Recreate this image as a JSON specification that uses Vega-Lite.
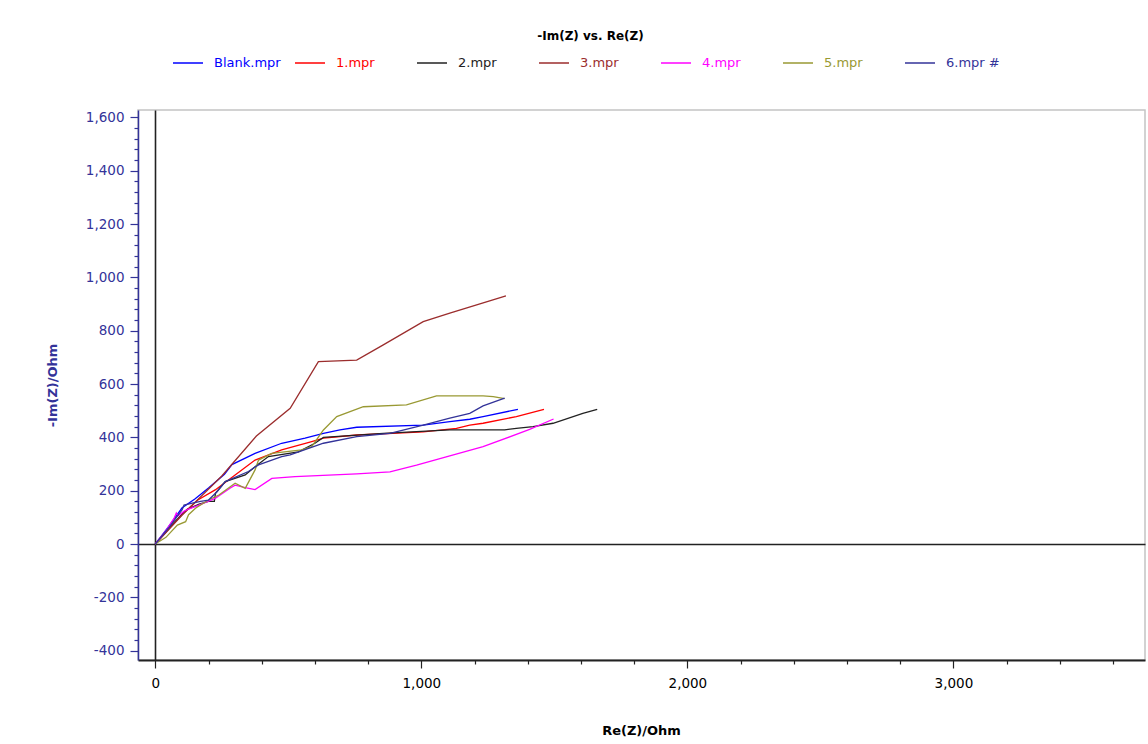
{
  "$schema": "https://vega.github.io/schema/vega-lite/v6.json",
  "width": 1007,
  "height": 550,
  "autosize": "none",
  "padding": {"left": 138, "top": 110, "right": 3, "bottom": 84},
  "background": "white",
  "title": {"text": "-Im(Z) vs. Re(Z)", "anchor": "middle", "dx": -51, "font": "DejaVu Sans", "fontSize": 12, "fontWeight": "bold", "color": "#000000", "offset": 4},
  "config": {
    "view": {"stroke": "#c4c4c4", "strokeWidth": 1.5},
    "font": "DejaVu Sans",
    "axis": {"labelOverlap": false, "labelFlush": false}
  },
  "data": {"values": [
    {"s":"Blank.mpr","x":0,"y":0},{"s":"Blank.mpr","x":50,"y":65},{"s":"Blank.mpr","x":100,"y":135},{"s":"Blank.mpr","x":150,"y":170},{"s":"Blank.mpr","x":200,"y":210},{"s":"Blank.mpr","x":260,"y":262},{"s":"Blank.mpr","x":288,"y":298},{"s":"Blank.mpr","x":375,"y":340},{"s":"Blank.mpr","x":475,"y":378},{"s":"Blank.mpr","x":563,"y":397},{"s":"Blank.mpr","x":632,"y":415},{"s":"Blank.mpr","x":694,"y":428},{"s":"Blank.mpr","x":757,"y":438},{"s":"Blank.mpr","x":1007,"y":446},{"s":"Blank.mpr","x":1107,"y":459},{"s":"Blank.mpr","x":1182,"y":468},{"s":"Blank.mpr","x":1232,"y":478},{"s":"Blank.mpr","x":1363,"y":505},
    {"s":"1.mpr","x":0,"y":0},{"s":"1.mpr","x":50,"y":55},{"s":"1.mpr","x":100,"y":110},{"s":"1.mpr","x":160,"y":165},{"s":"1.mpr","x":225,"y":203},{"s":"1.mpr","x":300,"y":259},{"s":"1.mpr","x":375,"y":315},{"s":"1.mpr","x":475,"y":353},{"s":"1.mpr","x":588,"y":384},{"s":"1.mpr","x":632,"y":397},{"s":"1.mpr","x":757,"y":409},{"s":"1.mpr","x":1007,"y":421},{"s":"1.mpr","x":1132,"y":434},{"s":"1.mpr","x":1182,"y":446},{"s":"1.mpr","x":1232,"y":453},{"s":"1.mpr","x":1357,"y":478},{"s":"1.mpr","x":1461,"y":505},
    {"s":"2.mpr","x":0,"y":0},{"s":"2.mpr","x":60,"y":70},{"s":"2.mpr","x":120,"y":130},{"s":"2.mpr","x":165,"y":150},{"s":"2.mpr","x":200,"y":160},{"s":"2.mpr","x":222,"y":160},{"s":"2.mpr","x":226,"y":190},{"s":"2.mpr","x":263,"y":234},{"s":"2.mpr","x":338,"y":259},{"s":"2.mpr","x":375,"y":290},{"s":"2.mpr","x":425,"y":328},{"s":"2.mpr","x":538,"y":346},{"s":"2.mpr","x":600,"y":378},{"s":"2.mpr","x":632,"y":400},{"s":"2.mpr","x":857,"y":415},{"s":"2.mpr","x":1107,"y":428},{"s":"2.mpr","x":1182,"y":428},{"s":"2.mpr","x":1313,"y":428},{"s":"2.mpr","x":1357,"y":434},{"s":"2.mpr","x":1420,"y":440},{"s":"2.mpr","x":1495,"y":453},{"s":"2.mpr","x":1607,"y":490},{"s":"2.mpr","x":1661,"y":505},
    {"s":"3.mpr","x":0,"y":0},{"s":"3.mpr","x":100,"y":108},{"s":"3.mpr","x":250,"y":255},{"s":"3.mpr","x":380,"y":405},{"s":"3.mpr","x":507,"y":509},{"s":"3.mpr","x":613,"y":684},{"s":"3.mpr","x":757,"y":690},{"s":"3.mpr","x":857,"y":747},{"s":"3.mpr","x":1007,"y":834},{"s":"3.mpr","x":1107,"y":866},{"s":"3.mpr","x":1318,"y":931},
    {"s":"4.mpr","x":0,"y":0},{"s":"4.mpr","x":40,"y":50},{"s":"4.mpr","x":70,"y":95},{"s":"4.mpr","x":79,"y":116},{"s":"4.mpr","x":85,"y":105},{"s":"4.mpr","x":110,"y":125},{"s":"4.mpr","x":164,"y":146},{"s":"4.mpr","x":225,"y":171},{"s":"4.mpr","x":282,"y":210},{"s":"4.mpr","x":300,"y":221},{"s":"4.mpr","x":338,"y":212},{"s":"4.mpr","x":375,"y":204},{"s":"4.mpr","x":438,"y":246},{"s":"4.mpr","x":525,"y":253},{"s":"4.mpr","x":757,"y":263},{"s":"4.mpr","x":882,"y":271},{"s":"4.mpr","x":982,"y":296},{"s":"4.mpr","x":1107,"y":331},{"s":"4.mpr","x":1232,"y":365},{"s":"4.mpr","x":1407,"y":430},{"s":"4.mpr","x":1497,"y":469},
    {"s":"5.mpr","x":0,"y":0},{"s":"5.mpr","x":40,"y":25},{"s":"5.mpr","x":83,"y":71},{"s":"5.mpr","x":114,"y":84},{"s":"5.mpr","x":125,"y":110},{"s":"5.mpr","x":151,"y":134},{"s":"5.mpr","x":200,"y":165},{"s":"5.mpr","x":239,"y":184},{"s":"5.mpr","x":300,"y":228},{"s":"5.mpr","x":338,"y":209},{"s":"5.mpr","x":375,"y":278},{"s":"5.mpr","x":388,"y":315},{"s":"5.mpr","x":438,"y":340},{"s":"5.mpr","x":550,"y":353},{"s":"5.mpr","x":588,"y":365},{"s":"5.mpr","x":632,"y":428},{"s":"5.mpr","x":682,"y":478},{"s":"5.mpr","x":782,"y":515},{"s":"5.mpr","x":944,"y":522},{"s":"5.mpr","x":1057,"y":556},{"s":"5.mpr","x":1232,"y":556},{"s":"5.mpr","x":1270,"y":553},{"s":"5.mpr","x":1313,"y":545},
    {"s":"6.mpr #","x":0,"y":0},{"s":"6.mpr #","x":50,"y":60},{"s":"6.mpr #","x":101,"y":129},{"s":"6.mpr #","x":108,"y":146},{"s":"6.mpr #","x":139,"y":153},{"s":"6.mpr #","x":170,"y":160},{"s":"6.mpr #","x":200,"y":165},{"s":"6.mpr #","x":232,"y":196},{"s":"6.mpr #","x":263,"y":234},{"s":"6.mpr #","x":350,"y":272},{"s":"6.mpr #","x":388,"y":297},{"s":"6.mpr #","x":475,"y":328},{"s":"6.mpr #","x":507,"y":334},{"s":"6.mpr #","x":632,"y":378},{"s":"6.mpr #","x":757,"y":403},{"s":"6.mpr #","x":882,"y":415},{"s":"6.mpr #","x":1007,"y":446},{"s":"6.mpr #","x":1107,"y":472},{"s":"6.mpr #","x":1182,"y":490},{"s":"6.mpr #","x":1232,"y":518},{"s":"6.mpr #","x":1313,"y":547}
  ]},
  "mark": {"type": "line", "strokeWidth": 1.3, "clip": true},
  "encoding": {
    "x": {"field": "x", "type": "quantitative",
      "scale": {"domain": [-65, 3720], "nice": false, "zero": false},
      "axis": {
        "title": "Re(Z)/Ohm",
        "values": [0,200,400,600,800,1000,1200,1400,1600,1800,2000,2200,2400,2600,2800,3000,3200,3400,3600],
        "labelExpr": "datum.value % 1000 === 0 ? format(datum.value, ',') : ''",
        "tickSize": {"condition": {"test": "datum.value % 1000 === 0", "value": 8}, "value": 4},
        "tickColor": "#222222", "tickWidth": 1.2,
        "domainColor": "#222222", "domainWidth": 2,
        "grid": true, "gridColor": "#222222", "gridWidth": 1.6,
        "gridOpacity": {"condition": {"test": "datum.value === 0", "value": 1}, "value": 0},
        "labelColor": "#000000", "labelFont": "DejaVu Sans", "labelFontSize": 13.5,
        "labelPadding": 8, "labelOverlap": false, "labelFlush": false,
        "titleFont": "DejaVu Sans", "titleFontSize": 13, "titleFontWeight": "bold", "titleColor": "#000000",
        "titleX": 503, "titleY": 70, "titleBaseline": "middle", "titleAlign": "center"
      }
    },
    "y": {"field": "y", "type": "quantitative",
      "scale": {"domain": [-435, 1628], "nice": false, "zero": false},
      "axis": {
        "title": "-Im(Z)/Ohm",
        "values": [-400,-360,-320,-280,-240,-200,-160,-120,-80,-40,0,40,80,120,160,200,240,280,320,360,400,440,480,520,560,600,640,680,720,760,800,840,880,920,960,1000,1040,1080,1120,1160,1200,1240,1280,1320,1360,1400,1440,1480,1520,1560,1600],
        "labelExpr": "datum.value % 200 === 0 ? (datum.value < 0 ? '-' : '') + format(abs(datum.value), ',') : ''",
        "tickSize": {"condition": {"test": "datum.value % 200 === 0", "value": 8}, "value": 4},
        "tickColor": "#333399", "tickWidth": 1.2,
        "domainColor": "#333399", "domainWidth": 1.5,
        "grid": true, "gridColor": "#222222", "gridWidth": 1.6,
        "gridOpacity": {"condition": {"test": "datum.value === 0", "value": 1}, "value": 0},
        "labelColor": "#333399", "labelFont": "DejaVu Sans", "labelFontSize": 13.5,
        "labelPadding": 6, "labelOverlap": false, "labelFlush": false,
        "titleFont": "DejaVu Sans", "titleFontSize": 13, "titleFontWeight": "bold", "titleColor": "#333399",
        "titleX": -86, "titleY": 275, "titleAngle": -90, "titleBaseline": "middle", "titleAlign": "center"
      }
    },
    "color": {"field": "s", "type": "nominal",
      "scale": {"domain": ["Blank.mpr","1.mpr","2.mpr","3.mpr","4.mpr","5.mpr","6.mpr #"],
                "range": ["#0000ff","#ff0000","#222222","#9b2d2d","#ff00ff","#999933","#333399"]},
      "legend": {
        "title": null, "orient": "none", "legendX": 34, "legendY": -63,
        "direction": "horizontal", "columns": 7, "gridAlign": "all",
        "symbolType": "stroke", "symbolSize": 900, "symbolStrokeWidth": 1.5,
        "labelFont": "DejaVu Sans", "labelFontSize": 13, "labelOffset": 10,
        "labelColor": {"expr": "scale('color', datum.value)"},
        "columnPadding": 11, "labelLimit": 200
      }
    }
  }
}
